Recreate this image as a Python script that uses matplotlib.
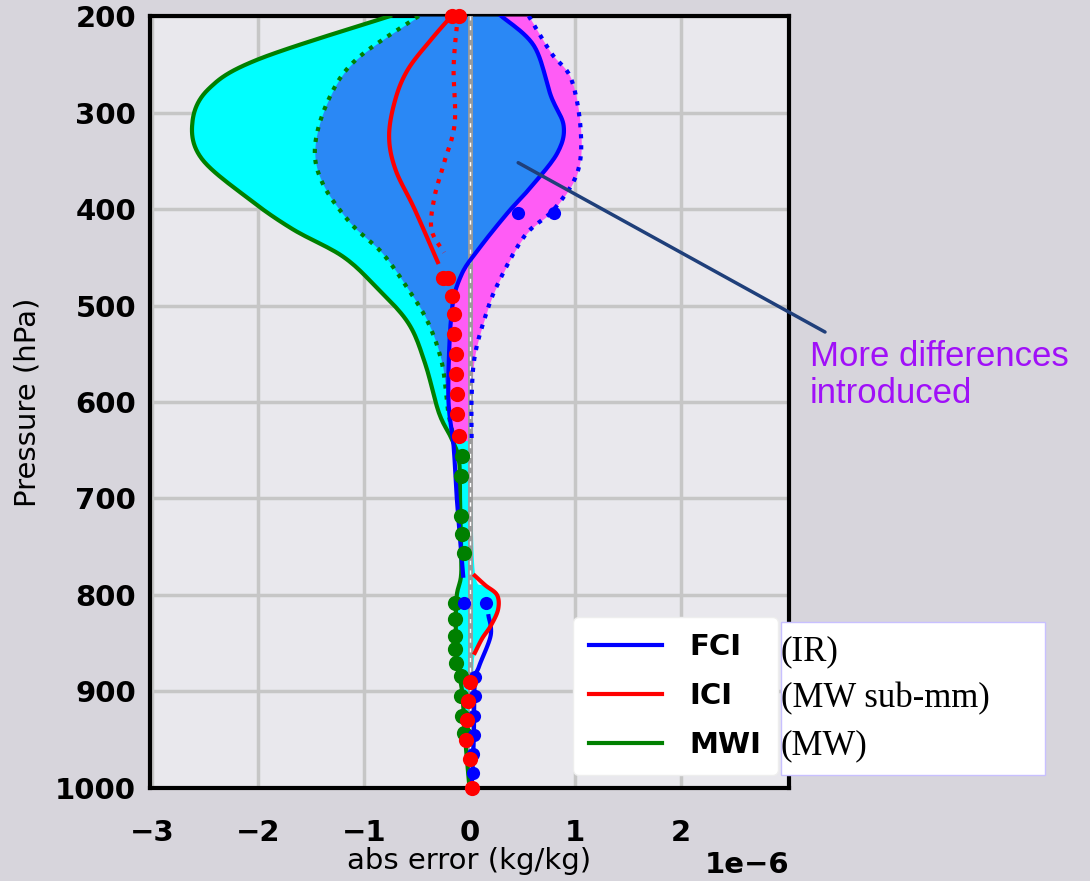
import numpy as np
import matplotlib.pyplot as plt
from matplotlib.patches import Rectangle

E = 1e-6

# MWI envelope (green solid, left edge of the cyan area)
mwi_lo_p = [200, 245, 276, 311, 348, 390, 421, 449, 480, 518, 560, 611, 638, 660, 700, 750, 780, 800, 830, 870, 900, 950, 1000]
mwi_lo_x = [-0.75, -2.0, -2.47, -2.62, -2.53, -2.08, -1.67, -1.2, -0.89, -0.58, -0.42, -0.29, -0.17,
            -0.1, -0.09, -0.08, -0.08, -0.12, -0.13, -0.12, -0.07, -0.04, 0.0]
# right edge of cyan area
mwi_hi_p = [200, 650, 700, 780, 790, 800, 815, 832, 845, 860, 880, 950, 1000]
mwi_hi_x = [0.0, 0.0, 0.02, 0.05, 0.15, 0.26, 0.27, 0.2, 0.12, 0.05, 0.03, 0.02, 0.0]

# MWI dotted (left edge of blue area)
mwi_dot_p = [200, 245, 286, 335, 373, 414, 445, 483, 518, 560, 611, 640]
mwi_dot_x = [-0.48, -1.07, -1.33, -1.46, -1.39, -1.13, -0.83, -0.58, -0.39, -0.26, -0.2, -0.14]

# FCI solid
fci_p = [200, 231, 283, 314, 342, 376, 404, 441, 469, 508, 594, 646, 700, 780]
fci_x = [0.3, 0.61, 0.77, 0.89, 0.83, 0.59, 0.36, 0.09, -0.08, -0.17, -0.2, -0.15, -0.12, -0.06]
fci_low_p = [822, 842, 874, 890, 950, 1000]
fci_low_x = [0.18, 0.2, 0.09, 0.05, 0.04, 0.02]

# FCI dotted
fci_dot_p = [200, 238, 265, 317, 362, 400, 428, 477, 511, 552, 594, 640]
fci_dot_x = [0.56, 0.77, 0.96, 1.05, 1.02, 0.8, 0.52, 0.27, 0.15, 0.05, 0.02, 0.02]

# ICI solid / dotted
ici_p = [200, 224, 255, 286, 324, 359, 400, 455]
ici_x = [-0.17, -0.36, -0.58, -0.7, -0.76, -0.7, -0.52, -0.3]
ici_low_p = [780, 790, 800, 815, 832, 845, 860]
ici_low_x = [0.05, 0.15, 0.26, 0.27, 0.2, 0.12, 0.05]
ici_dot_p = [200, 252, 311, 352, 387, 421, 445]
ici_dot_x = [-0.11, -0.15, -0.14, -0.24, -0.33, -0.36, -0.24]

# large dots
red_dot_p = [200, 200, 472, 472, 490, 509, 530, 550, 571, 592, 612, 635, 890, 910, 930, 950, 970, 1000]
red_dot_x = [-0.17, -0.1, -0.25, -0.2, -0.17, -0.15, -0.15, -0.13, -0.13, -0.12, -0.12, -0.1,
             0.0, -0.01, -0.02, -0.03, 0.0, 0.02]
green_dot_p = [656, 677, 718, 737, 756, 808, 825, 842, 856, 870, 884, 905, 925, 943]
green_dot_x = [-0.07, -0.08, -0.08, -0.07, -0.05, -0.14, -0.14, -0.14, -0.14, -0.13, -0.08, -0.08, -0.07, -0.05]
blue_dot_p = [404, 404, 808, 808, 885, 905, 925, 945, 965, 985]
blue_dot_x = [0.46, 0.8, -0.05, 0.16, 0.05, 0.05, 0.04, 0.04, 0.03, 0.03]

labels = ['FCI', 'ICI', 'MWI']
notes = ['(IR)', '(MW sub-mm)', '(MW)']


def sc(v):
    return np.asarray(v) * E


def smooth(p, x, n=12):
    # Catmull-Rom through the read-off points, only to draw rounded curves
    pts = np.column_stack([x, p]).astype(float)
    pts = np.vstack([pts[0], pts, pts[-1]])
    out = []
    t = np.linspace(0, 1, n, endpoint=False)[:, None]
    for i in range(1, len(pts) - 2):
        p0, p1, p2, p3 = pts[i - 1], pts[i], pts[i + 1], pts[i + 2]
        seg = 0.5 * ((2 * p1) + (-p0 + p2) * t + (2 * p0 - 5 * p1 + 4 * p2 - p3) * t ** 2
                     + (-p0 + 3 * p1 - 3 * p2 + p3) * t ** 3)
        out.append(seg)
    out.append(pts[-2][None, :])
    out = np.vstack(out)
    return out[:, 1], out[:, 0]


def on_grid(p, x, grid):
    sp, sx = smooth(p, x)
    order = np.argsort(sp)
    return np.interp(grid, sp[order], sx[order])


fig = plt.figure(figsize=(10.9, 8.81), dpi=100, facecolor='#d7d5dc')
ax = fig.add_axes([0.1376, 0.1056, 0.5863, 0.8762])
ax.set_facecolor('#e9e8ed')

# filled areas
p_all = np.linspace(200, 1000, 1601)
ax.fill_betweenx(p_all, sc(on_grid(mwi_lo_p, mwi_lo_x, p_all)),
                 sc(on_grid(mwi_hi_p, mwi_hi_x, p_all)), color='#00ffff', zorder=2, lw=0)

p_up = np.linspace(200, 640, 881)
fci_up = on_grid(fci_p, fci_x, p_up)
ax.fill_betweenx(p_up, sc(on_grid(mwi_dot_p, mwi_dot_x, p_up)), sc(fci_up),
                 color='#2a88f5', zorder=3, lw=0)
ax.fill_betweenx(p_up, sc(fci_up), sc(on_grid(fci_dot_p, fci_dot_x, p_up)),
                 color='#ff5cf5', zorder=3, lw=0)

# zero line
ax.axvline(0, color='#9a9a9a', lw=3.5, zorder=4)
ax.axvline(0, color='white', lw=1, ls=(0, (3, 4)), zorder=4)

# lines
def curve(p, x, **kw):
    sp, sx = smooth(p, x)
    ax.plot(sc(sx), sp, lw=3, zorder=5, **kw)


curve(mwi_lo_p, mwi_lo_x, color='#008000')
curve(mwi_dot_p, mwi_dot_x, color='#008000', ls=':')
curve(fci_p, fci_x, color='#0000ff')
curve(fci_low_p, fci_low_x, color='#0000ff')
curve(fci_dot_p, fci_dot_x, color='#0000ff', ls=':')
curve(ici_p, ici_x, color='#ff0000')
curve(ici_low_p, ici_low_x, color='#ff0000')
curve(ici_dot_p, ici_dot_x, color='#ff0000', ls=':')

ax.scatter(sc(green_dot_x), green_dot_p, s=120, color='#008000', zorder=6, lw=0)
ax.scatter(sc(blue_dot_x), blue_dot_p, s=90, color='#0000ff', zorder=6, lw=0)
ax.scatter(sc(red_dot_x), red_dot_p, s=120, color='#ff0000', zorder=6, lw=0, clip_on=False)

# legend proxies
h1, = ax.plot([], [], color='#0000ff', lw=3, label=labels[0])
h2, = ax.plot([], [], color='#ff0000', lw=3, label=labels[1])
h3, = ax.plot([], [], color='#008000', lw=3, label=labels[2])
leg = ax.legend(handles=[h1, h2, h3], loc='lower left', bbox_to_anchor=(0.662, 0.017),
                borderaxespad=0, prop={'weight': 'bold', 'size': 21}, handlelength=2.5,
                labelspacing=0.72, framealpha=1, facecolor='white', edgecolor='#eeeeee',
                fancybox=True, borderpad=0.55, handletextpad=0.95)
leg.set_zorder(10)

ax.set_xlim(-3.02 * E, 3.02 * E)
ax.set_ylim(1000, 200)
ax.set_xticks(np.arange(-3, 3) * E)
ax.set_yticks(np.arange(200, 1001, 100))
ax.grid(True, color='#c6c6c6', lw=2.5, zorder=1)
ax.set_axisbelow(True)
ax.tick_params(length=0, labelsize=21, pad=10)
ax.tick_params(axis='x', pad=22)
for t in ax.get_xticklabels() + ax.get_yticklabels():
    t.set_fontweight('bold')
ax.xaxis.get_offset_text().set_fontsize(21)
ax.xaxis.get_offset_text().set_fontweight('bold')
ax.set_xlabel('abs error (kg/kg)', fontsize=21, labelpad=0)
ax.set_ylabel('Pressure (hPa)', fontsize=21, labelpad=10)
for s in ax.spines.values():
    s.set_color('black')
    s.set_linewidth(3)

# annotation
ax.annotate('', xy=(0.46 * E, 352), xytext=(825 / 1090, 1 - 332 / 881),
            textcoords='figure fraction',
            arrowprops=dict(arrowstyle='-', color='#1f3f7a', lw=2.5, shrinkA=0, shrinkB=0),
            zorder=8, annotation_clip=False)
fig.text(810 / 1090, 1 - 340 / 881, 'More differences\nintroduced', color='#a010f8',
         fontsize=25, family='Liberation Sans', linespacing=1.15, va='top')

# note box
fig.patches.append(Rectangle((781 / 1090, 1 - 775 / 881), 264 / 1090, 153 / 881,
                             transform=fig.transFigure, facecolor='white',
                             edgecolor='#c8c0ff', lw=1, zorder=20))
for i, n in enumerate(notes):
    fig.text(781 / 1090, 1 - (652 + i * 47) / 881, n, family='Liberation Serif',
             fontsize=25, va='center', zorder=21)

fig.savefig('out.png', dpi=100, facecolor=fig.get_facecolor())
